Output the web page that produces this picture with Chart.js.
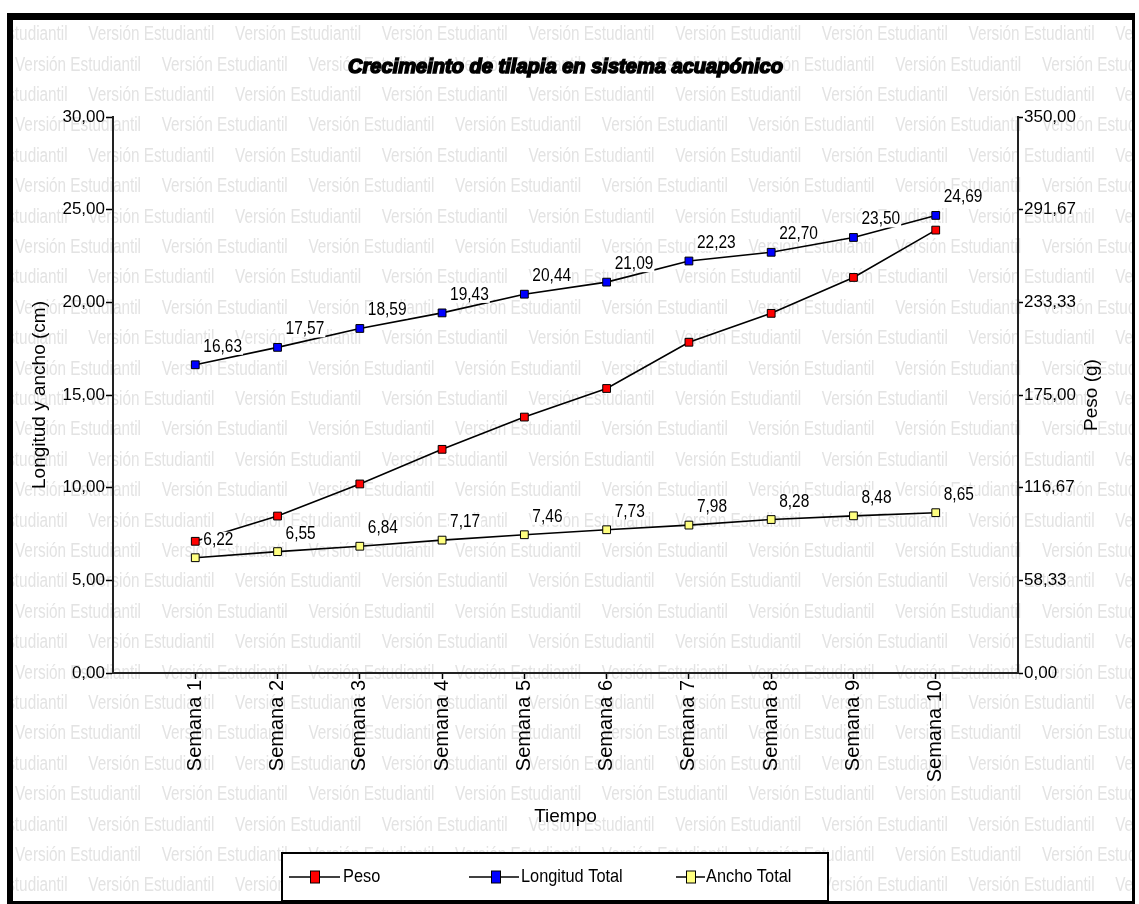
<!DOCTYPE html>
<html><head><meta charset="utf-8">
<script src="https://cdn.jsdelivr.net/npm/chart.js@4.4.1/dist/chart.umd.min.js"></script>
<style>html,body{margin:0;padding:0;background:#fff;}#wrap{width:1139px;height:904px;}</style>
</head><body><div id="wrap"><canvas id="c" width="1139" height="904"></canvas></div>
<script>
const chartTitle = 'Crecimeinto de tilapia en sistema acuapónico';
const categories = ['Semana 1','Semana 2','Semana 3','Semana 4','Semana 5','Semana 6','Semana 7','Semana 8','Semana 9','Semana 10'];
const peso = [82.9, 98.8, 119.0, 140.8, 161.1, 179.1, 208.2, 226.4, 249.0, 278.8];
const longitudTotal = [16.63, 17.57, 18.59, 19.43, 20.44, 21.09, 22.23, 22.70, 23.50, 24.69];
const anchoTotal = [6.22, 6.55, 6.84, 7.17, 7.46, 7.73, 7.98, 8.28, 8.48, 8.65];
const leftTicks = [0, 5, 10, 15, 20, 25, 30];
const rightTicks = [0, 58.33, 116.67, 175, 233.33, 291.67, 350];
const seriesNames = ['Peso', 'Longitud Total', 'Ancho Total'];
const seriesColors = ['#ff0000', '#0000ff', '#ffff80'];

const FONT = '"Liberation Sans", Arial, Helvetica, sans-serif';
const fmt = v => v.toFixed(2).replace('.', ',');
const toPts = arr => arr.map((v, i) => ({x: i + 1, y: v}));

function drawWatermark(ctx) {
  ctx.save();
  ctx.beginPath(); ctx.rect(13, 20, 1119, 881); ctx.clip();
  ctx.fillStyle = '#e3e3e3';
  ctx.font = '20px ' + FONT;
  ctx.textBaseline = 'middle';
  const txt = 'Versión Estudiantil';
  const w = ctx.measureText(txt).width;
  const sx = 126 / w;
  const period = 146.7;
  for (let n = -8; n <= 22; n++) {
    const y = 673 - 30.4 * n;
    const x0 = (Math.abs(n) % 2 === 0) ? 15 : 15 - period / 2;
    for (let x = x0; x < 1140; x += period) {
      ctx.save(); ctx.translate(x, y); ctx.scale(sx, 1); ctx.fillText(txt, 0, 0); ctx.restore();
    }
  }
  ctx.restore();
}

const bgPlugin = {
  id: 'bg',
  beforeDraw(chart) {
    const ctx = chart.ctx;
    ctx.save(); ctx.fillStyle = '#fff'; ctx.fillRect(0, 0, chart.width, chart.height); ctx.restore();
    drawWatermark(ctx);
  }
};

function condensedText(ctx, txt, x, y, sx) {
  ctx.save(); ctx.translate(x, y); ctx.scale(sx, 1); ctx.fillText(txt, 0, 0); ctx.restore();
}

const labelPlugin = {
  id: 'valueLabels',
  afterDatasetsDraw(chart) {
    const ctx = chart.ctx;
    ctx.save();
    ctx.font = '18px ' + FONT;
    ctx.textBaseline = 'middle';
    ctx.textAlign = 'left';
    const sx = 0.86;
    [[1, longitudTotal], [2, anchoTotal]].forEach(([di, vals]) => {
      const meta = chart.getDatasetMeta(di);
      meta.data.forEach((pt, i) => {
        const t = fmt(vals[i]);
        const w = ctx.measureText(t).width * sx;
        const lx = pt.x + 8, ly = pt.y - 18;
        ctx.fillStyle = '#fff';
        ctx.fillRect(lx - 1, ly - 8, w + 2, 16);
        ctx.fillStyle = '#000';
        condensedText(ctx, t, lx, ly, sx);
      });
    });
    ctx.restore();
  }
};

const decorPlugin = {
  id: 'decor',
  afterDraw(chart) {
    const ctx = chart.ctx;
    ctx.save();
    // title
    ctx.font = 'italic bold 20px ' + FONT;
    ctx.textBaseline = 'middle';
    ctx.textAlign = 'left';
    const tw = ctx.measureText(chartTitle).width;
    const tsx = 435 / tw;
    ctx.save(); ctx.translate(348, 67); ctx.scale(tsx, 1);
    ctx.fillStyle = '#000'; ctx.strokeStyle = '#000'; ctx.lineWidth = 1.6;
    ctx.fillText(chartTitle, 0, 0); ctx.strokeText(chartTitle, 0, 0);
    ctx.restore();
    // right axis title
    ctx.save();
    ctx.translate(1092, 395); ctx.rotate(-Math.PI / 2);
    ctx.font = '19px ' + FONT; ctx.textAlign = 'center'; ctx.textBaseline = 'middle';
    ctx.fillStyle = '#000';
    ctx.fillText('Peso (g)', 0, 0);
    ctx.restore();
    // legend
    ctx.fillStyle = '#fff';
    ctx.fillRect(282, 853, 546, 48);
    ctx.strokeStyle = '#000'; ctx.lineWidth = 2;
    ctx.strokeRect(282, 853, 546, 48);
    const items = [
      {l1: 289, l2: 340, m: 315, t: 343},
      {l1: 469, l2: 519, m: 496, t: 521},
      {l1: 676, l2: 705, m: 691, t: 706}
    ];
    const ly = 877;
    ctx.font = '19px ' + FONT; ctx.textBaseline = 'middle'; ctx.textAlign = 'left';
    items.forEach((it, i) => {
      ctx.strokeStyle = '#000'; ctx.lineWidth = 1.5;
      ctx.beginPath(); ctx.moveTo(it.l1, ly); ctx.lineTo(it.l2, ly); ctx.stroke();
      ctx.fillStyle = seriesColors[i];
      ctx.fillRect(it.m - 4.5, ly - 6, 9, 12);
      ctx.lineWidth = 1; ctx.strokeRect(it.m - 4.5, ly - 6, 9, 12);
      ctx.fillStyle = '#000';
      condensedText(ctx, seriesNames[i], it.t, ly, 0.86);
    });
    // frame
    ctx.fillStyle = '#000';
    ctx.fillRect(7, 13, 1128, 7);
    ctx.fillRect(7, 13, 6, 891);
    ctx.fillRect(1132, 13, 3, 891);
    ctx.fillRect(7, 901, 1128, 3);
    ctx.restore();
  }
};

const dsCommon = {
  borderColor: '#000', borderWidth: 1.6, pointStyle: 'rect', pointRadius: 5.5,
  pointBorderColor: '#000', pointBorderWidth: 1, tension: 0, fill: false
};

new Chart(document.getElementById('c'), {
  type: 'line',
  data: {
    datasets: [
      Object.assign({label: seriesNames[0], data: toPts(peso), yAxisID: 'yR', pointBackgroundColor: seriesColors[0]}, dsCommon),
      Object.assign({label: seriesNames[1], data: toPts(longitudTotal), yAxisID: 'yL', pointBackgroundColor: seriesColors[1]}, dsCommon),
      Object.assign({label: seriesNames[2], data: toPts(anchoTotal), yAxisID: 'yL', pointBackgroundColor: seriesColors[2]}, dsCommon)
    ]
  },
  options: {
    responsive: false, animation: false, devicePixelRatio: 1,
    layout: {padding: {top: 117, left: 0, right: 0, bottom: 0}},
    plugins: {legend: {display: false}, tooltip: {enabled: false}, title: {display: false}},
    scales: {
      x: {
        type: 'linear', min: 0, max: 11,
        afterBuildTicks: s => { s.ticks = categories.map((c, i) => ({value: i + 1})); },
        afterFit: s => { s.height = 231; },
        ticks: {
          autoSkip: false, maxRotation: 90, minRotation: 90, padding: 1,
          color: '#000', font: {family: FONT, size: 20},
          callback: v => categories[v - 1] || ''
        },
        grid: {display: true, drawOnChartArea: false, drawTicks: true, tickLength: 6, tickColor: '#000', tickWidth: 1.5},
        border: {display: true, color: '#222', width: 2},
        title: {display: true, text: 'Tiempo', color: '#000', font: {family: FONT, size: 19}, padding: {top: 0, bottom: 76}}
      },
      yL: {
        position: 'left', min: 0, max: 30,
        afterBuildTicks: s => { s.ticks = leftTicks.map(v => ({value: v})); },
        afterFit: s => { s.width = 113; },
        ticks: {color: '#000', font: {family: FONT, size: 17}, padding: 1, callback: v => fmt(v)},
        grid: {display: true, drawOnChartArea: false, drawTicks: true, tickLength: 7, tickColor: '#000', tickWidth: 1.5},
        border: {display: true, color: '#222', width: 2},
        title: {display: true, text: 'Longitud y ancho (cm)', color: '#000', font: {family: FONT, size: 19}, padding: {top: 28.6, bottom: 0}}
      },
      yR: {
        position: 'right', min: 0, max: 350,
        afterBuildTicks: s => { s.ticks = rightTicks.map(v => ({value: v})); },
        afterFit: s => { s.width = 121; },
        ticks: {color: '#000', font: {family: FONT, size: 17}, padding: 1, callback: v => fmt(v)},
        grid: {display: true, drawOnChartArea: false, drawTicks: true, tickLength: 5, tickColor: '#000', tickWidth: 1.5},
        border: {display: true, color: '#222', width: 2}
      }
    }
  },
  plugins: [bgPlugin, labelPlugin, decorPlugin]
});
</script>
</body></html>
